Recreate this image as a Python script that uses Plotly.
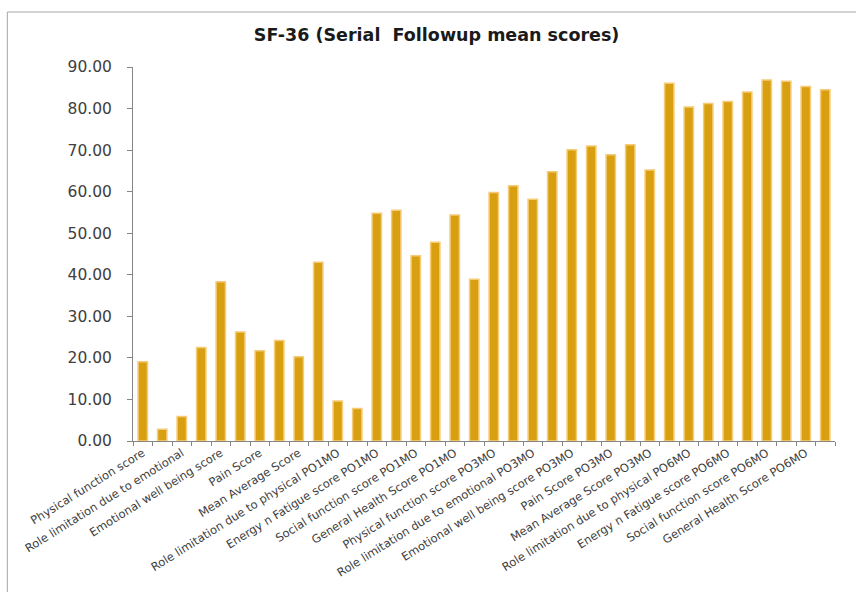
import plotly.graph_objects as go

# SF-36 domains measured at each follow-up point
domains = ['Physical function score', 'Role limitation due to physical',
           'Role limitation due to emotional', 'Energy n Fatigue score',
           'Emotional well being score', 'Social function score',
           'Pain Score', 'General Health Score', 'Mean Average Score']
timepoints = ['', ' PO1MO', ' PO3MO', ' PO6MO']

categories = [d + t for t in timepoints for d in domains]

baseline = [19.1, 2.8, 5.9, 22.5, 38.3, 26.2, 21.7, 24.2, 20.3]
po1mo = [43.0, 9.6, 7.8, 54.8, 55.5, 44.6, 47.8, 54.4, 38.9]
po3mo = [59.8, 61.4, 58.2, 64.8, 70.1, 71.0, 68.9, 71.3, 65.2]
po6mo = [86.1, 80.4, 81.2, 81.7, 84.0, 86.9, 86.6, 85.3, 84.5]

scores = baseline + po1mo + po3mo + po6mo

# only every other category is labelled on the axis
tick_text = [c if i % 2 == 0 else '' for i, c in enumerate(categories)]

fig = go.Figure()
fig.add_trace(go.Bar(
    x=categories,
    y=scores,
    marker=dict(color='#D8A010', line=dict(color='#F6CB78', width=1.5)),
))

fig.update_layout(
    width=856,
    height=592,
    paper_bgcolor='white',
    plot_bgcolor='white',
    showlegend=False,
    bargap=0.52,
    margin=dict(l=133, r=21, t=67, b=151),
    title=dict(text='<b>SF-36 (Serial  Followup mean scores)</b>',
               x=0.51, xref='container', xanchor='center',
               y=1 - 35 / 592, yref='container', yanchor='middle',
               font=dict(family='DejaVu Sans', size=17.5, color='#1a1a1a')),
    font=dict(family='DejaVu Sans', color='#404040'),
)

fig.update_xaxes(
    type='category',
    tickmode='array',
    tickvals=categories,
    ticktext=tick_text,
    tickangle=-32,
    tickson='boundaries',
    ticks='outside',
    ticklen=4,
    tickcolor='#868686',
    showline=True,
    linecolor='#868686',
    linewidth=1,
    showgrid=False,
    automargin=False,
    tickfont=dict(size=11.5, color='#404040'),
)

fig.update_yaxes(
    range=[0, 90],
    dtick=10,
    tickformat='.2f',
    ticks='outside',
    ticklen=5,
    tickcolor='#868686',
    ticklabelstandoff=12,
    showline=True,
    linecolor='#868686',
    linewidth=1,
    showgrid=False,
    zeroline=False,
    automargin=False,
    tickfont=dict(size=15.5, color='#404040'),
)

# chart area outline (left and top edges visible)
fig.add_shape(type='rect', xref='paper', yref='paper',
              x0=-0.179, x1=1.3, y0=-0.6, y1=1.147,
              line=dict(color='#A6A6A6', width=1), layer='below')

# drop the browser's default body margin so the figure sits at 0,0
fig.write_html('out.html', config={'displayModeBar': False},
               post_script="document.body.style.margin='0';")
